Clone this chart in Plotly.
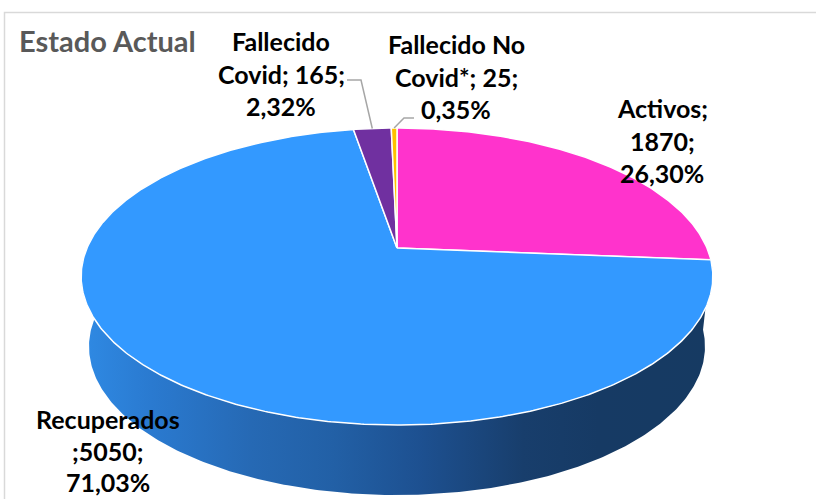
import numpy as np
import plotly.graph_objects as go

# ---- data ----
names = ["Activos", "Recuperados", "Fallecido Covid", "Fallecido No Covid*"]
values = [1870, 5050, 165, 25]
colors = ["#FF33CC", "#3399FF", "#7030A0", "#FFC000"]
title_text = "Estado Actual"

total = sum(values)
pcts = [f"{v / total * 100:.2f}%".replace(".", ",") for v in values]

# label lines (built from data)
label_lines = [
    [f"{names[0]};", f"{values[0]};", pcts[0]],
    [f"{names[1]}", f";{values[1]};", pcts[1]],
    ["Fallecido", f"Covid; {values[2]};", pcts[2]],
    ["Fallecido No", f"Covid*; {values[3]};", pcts[3]],
]

# ---- geometry of the perspective pie (pixel space) ----
W, H = 816, 499
X0 = 397.0      # centre x
P = 310.0       # horizontal radius at centre depth
K = 0.192       # perspective factor
A, B = 248.0, -95.4
DEPTH = 70.0
BOT_SCALE = 0.975


def proj(theta_deg, depth=0.0):
    t = np.radians(theta_deg)
    u, v = np.sin(t), np.cos(t)
    w = 1 + K * v
    X = X0 + P * u / w
    Y = (A + B * v) / w
    if depth:
        X = X0 + BOT_SCALE * (X - X0)
        Y = Y + depth
    return X, Y


fracs = np.array(values) / total
bounds = np.concatenate([[0], np.cumsum(fracs) * 360])

fig = go.Figure()

# side wall (front) - Recuperados gradient
blue_start = bounds[1]
th = np.linspace(blue_start, 285, 300)
xt, yt = proj(th)
xb, yb = proj(th[::-1], DEPTH)
fig.add_trace(go.Scatter(
    x=np.concatenate([xt, xb, xt[:1]]), y=np.concatenate([yt, yb, yt[:1]]),
    mode="lines", fill="toself", line=dict(width=0),
    fillgradient=dict(type="horizontal", colorscale=[
        [0.0, "#2F8AE4"], [0.11, "#2A7AD0"], [0.27, "#2669B4"], [0.40, "#2260A6"],
        [0.54, "#1D5090"], [0.70, "#183E6C"], [0.82, "#163A64"], [1.0, "#163A62"]]),
    hoverinfo="skip", showlegend=False))

# top faces
for i in range(len(values)):
    t1, t2 = bounds[i], bounds[i + 1]
    n = max(3, int((t2 - t1) * 2))
    th = np.linspace(t1, t2, n)
    x, y = proj(th)
    xs = np.concatenate([[X0], x, [X0]])
    ys = np.concatenate([[A], y, [A]])
    fig.add_trace(go.Scatter(
        x=xs, y=ys, mode="lines", fill="toself", fillcolor=colors[i],
        line=dict(color="white", width=1.5), hoverinfo="skip", showlegend=False))

# ---- labels ----
FONT = "Lato"
label_pos = [  # (centre x, first line centre y, line spacing)
    (662, 108, 32.5),
    (108, 419, 31.5),
    (281, 41, 32.5),
    (456, 44, 32.5),
]
ann = []
for (cx, cy, lh), lines in zip(label_pos, label_lines):
    for j, s in enumerate(lines):
        ann.append(dict(x=cx, y=cy + j * lh, xref="x", yref="y", text=f"<b>{s}</b>",
                        showarrow=False, xanchor="center", yanchor="middle",
                        font=dict(family=FONT, size=25, color="#000000")))
ann.append(dict(x=17, y=40, xref="x", yref="y", text=f"<b>{title_text}</b>",
                showarrow=False, xanchor="left", yanchor="middle",
                font=dict(family=FONT, size=29, color="#595959")))

# leader lines (end point computed from slice middle)
shapes = []
mid2 = (bounds[2] + bounds[3]) / 2
ex, ey = proj(mid2)
shapes.append(dict(type="path", xref="x", yref="y",
                   path=f"M 347 80 L 361 80 L {ex:.1f} {ey:.1f}",
                   line=dict(color="#A6A6A6", width=1.5)))
mid3 = (bounds[3] + bounds[4]) / 2
ex, ey = proj(mid3)
shapes.append(dict(type="path", xref="x", yref="y",
                   path=f"M 414 118 L 404 118 L {ex:.1f} {ey:.1f}",
                   line=dict(color="#A6A6A6", width=1.5)))
# chart frame
shapes.append(dict(type="rect", xref="x", yref="y", x0=4.5, y0=12.5, x1=840, y1=530,
                   line=dict(color="#D9D9D9", width=1.5), fillcolor="rgba(0,0,0,0)",
                   layer="below"))

fig.update_layout(
    width=W, height=H,
    margin=dict(l=0, r=0, t=0, b=0),
    paper_bgcolor="white", plot_bgcolor="white",
    xaxis=dict(range=[0, W], visible=False, fixedrange=True),
    yaxis=dict(range=[H, 0], visible=False, fixedrange=True),
    annotations=ann, shapes=shapes, showlegend=False,
)

fig.write_html("out.html", config={"displayModeBar": False},
               post_script="document.body.style.margin='0';document.body.style.overflow='hidden';")
